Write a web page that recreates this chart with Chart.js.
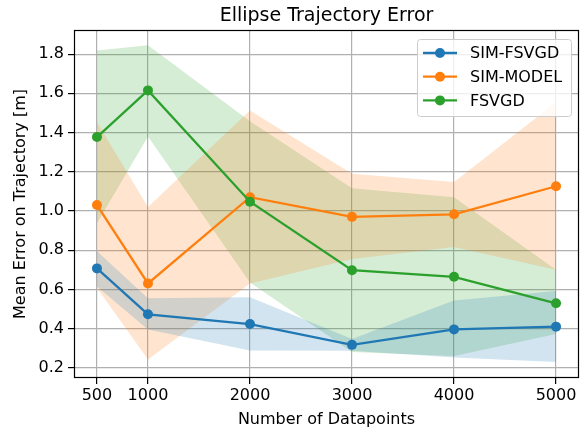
<!DOCTYPE html>
<html lang="en">
<head>
  <meta charset="UTF-8" />
  <title>Ellipse Trajectory Error</title>
  <script src="https://cdn.jsdelivr.net/npm/chart.js"></script>
  <style>
    body { margin: 0; background: #fff; }
    canvas { display: block; }
  </style>
</head>
<body>
  <canvas id="chart" width="587" height="435"></canvas>
  <script>
    // data
    const datapoints = [500, 1000, 2000, 3000, 4000, 5000];
    const yTicks = [0.2, 0.4, 0.6, 0.8, 1.0, 1.2, 1.4, 1.6, 1.8];

    const simFsvgd = [0.707, 0.473, 0.423, 0.317, 0.396, 0.41];
    const simFsvgdUpper = [0.795, 0.555, 0.56, 0.347, 0.543, 0.592];
    const simFsvgdLower = [0.615, 0.395, 0.288, 0.287, 0.253, 0.229];

    const simModel = [1.03, 0.63, 1.07, 0.97, 0.983, 1.126];
    const simModelUpper = [1.453, 1.02, 1.512, 1.19, 1.148, 1.555];
    const simModelLower = [0.607, 0.242, 0.63, 0.755, 0.816, 0.7];

    const fsvgd = [1.377, 1.615, 1.047, 0.698, 0.664, 0.529];
    const fsvgdUpper = [1.818, 1.845, 1.458, 1.116, 1.07, 0.7];
    const fsvgdLower = [0.937, 1.38, 0.635, 0.28, 0.26, 0.372];

    const pts = (ys) => ys.map((y, i) => ({ x: datapoints[i], y: y }));

    const series = [
      { label: 'SIM-FSVGD', color: '#1f77b4', band: 'rgba(31,119,180,0.2)', mean: simFsvgd, up: simFsvgdUpper, lo: simFsvgdLower, order: 3 },
      { label: 'SIM-MODEL', color: '#ff7f0e', band: 'rgba(255,127,14,0.2)', mean: simModel, up: simModelUpper, lo: simModelLower, order: 2 },
      { label: 'FSVGD', color: '#2ca02c', band: 'rgba(44,160,44,0.2)', mean: fsvgd, up: fsvgdUpper, lo: fsvgdLower, order: 1 }
    ];

    const datasets = [];
    series.forEach(s => {
      datasets.push({ data: pts(s.up), fill: '+1', backgroundColor: s.band, borderWidth: 0, pointRadius: 0, order: 10 });
      datasets.push({ data: pts(s.lo), fill: false, borderWidth: 0, pointRadius: 0, order: 10 });
    });
    series.forEach(s => {
      datasets.push({
        label: s.label, data: pts(s.mean), borderColor: s.color, backgroundColor: s.color,
        borderWidth: 2.3, pointRadius: 5, pointBorderWidth: 0, fill: false, order: s.order
      });
    });

    const font = "'DejaVu Sans', sans-serif";

    const decor = {
      id: 'decor',
      afterDraw(chart) {
        const { ctx, chartArea: a } = chart;
        ctx.save();
        // spines
        ctx.strokeStyle = '#000';
        ctx.lineWidth = 1.2;
        ctx.strokeRect(Math.round(a.left) + 0.5, Math.round(a.top) + 0.5,
          Math.round(a.right - a.left) - 1, Math.round(a.bottom - a.top) - 1);

        // title
        ctx.fillStyle = '#000';
        ctx.font = '19px ' + font;
        ctx.textAlign = 'center';
        ctx.textBaseline = 'alphabetic';
        ctx.fillText('Ellipse Trajectory Error', (a.left + a.right) / 2, 21);

        // legend box
        const bw = 154, bh = 77;
        const bx = a.right - 8 - bw, by = a.top + 9;
        ctx.beginPath();
        ctx.roundRect(bx + 0.5, by + 0.5, bw, bh, 3);
        ctx.fillStyle = 'rgba(255,255,255,0.8)';
        ctx.fill();
        ctx.strokeStyle = '#cccccc';
        ctx.lineWidth = 1;
        ctx.stroke();

        ctx.font = '16px ' + font;
        ctx.textAlign = 'left';
        ctx.textBaseline = 'middle';
        series.forEach((s, i) => {
          const yy = by + 14 + i * 23.7;
          ctx.strokeStyle = s.color;
          ctx.lineWidth = 2.3;
          ctx.beginPath();
          ctx.moveTo(bx + 6, yy);
          ctx.lineTo(bx + 40, yy);
          ctx.stroke();
          ctx.fillStyle = s.color;
          ctx.beginPath();
          ctx.arc(bx + 23, yy, 5, 0, 2 * Math.PI);
          ctx.fill();
          ctx.fillStyle = '#000';
          ctx.fillText(s.label, bx + 53, yy + 1);
        });
        ctx.restore();
      }
    };

    new Chart(document.getElementById('chart'), {
      type: 'line',
      data: { datasets: datasets },
      plugins: [decor],
      options: {
        responsive: false,
        animation: false,
        layout: { padding: { top: 30, right: 8, left: 0, bottom: 0 } },
        plugins: {
          legend: { display: false },
          title: { display: false },
          tooltip: { enabled: false },
          filler: { drawTime: 'beforeDatasetsDraw' }
        },
        scales: {
          x: {
            type: 'linear',
            min: 275,
            max: 5225,
            afterBuildTicks: s => { s.ticks = datapoints.map(v => ({ value: v })); },
            afterFit: s => { s.height = 57; },
            ticks: { color: '#000', font: { family: font, size: 16 }, padding: 2, maxRotation: 0, callback: v => String(v) },
            grid: { color: '#b0b0b0', lineWidth: 1.2, tickColor: '#000', tickLength: 6 },
            border: { display: false },
            title: { display: true, text: 'Number of Datapoints', color: '#000', font: { family: font, size: 16 }, padding: { top: 0, bottom: 6 } }
          },
          y: {
            min: 0.148,
            max: 1.923,
            afterBuildTicks: s => { s.ticks = yTicks.map(v => ({ value: v })); },
            afterFit: s => { s.width = 74; },
            ticks: { color: '#000', font: { family: font, size: 16 }, padding: 4, callback: v => v.toFixed(1) },
            grid: { color: '#b0b0b0', lineWidth: 1.2, tickColor: '#000', tickLength: 6 },
            border: { display: false },
            title: { display: true, text: 'Mean Error on Trajectory [m]', color: '#000', font: { family: font, size: 16 }, padding: { top: 11, bottom: 0 } }
          }
        }
      }
    });
  </script>
</body>
</html>
